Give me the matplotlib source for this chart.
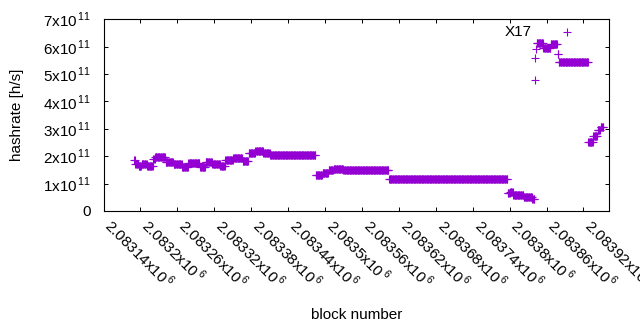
import numpy as np
import matplotlib
matplotlib.use("Agg")
import matplotlib.pyplot as plt
from matplotlib.ticker import FixedLocator, FuncFormatter

plt.rcParams['font.family'] = ['Liberation Sans', 'DejaVu Sans']
plt.rcParams['mathtext.fontset'] = 'custom'
plt.rcParams['mathtext.rm'] = 'Liberation Sans'

# ---- data: runs of blocks with (nearly) constant hashrate ----
first_block = 2083190
run_lengths = [2, 5, 5, 9, 10, 3, 17, 13, 14, 10, 19, 9, 11, 13, 8, 13, 15, 10,
               11, 13, 11, 74, 11, 10, 8, 16, 11, 63, 193, 4, 5, 17, 14, 4,
               1, 1, 1, 11, 12, 11, 2, 48, 8, 7, 5, 5]
run_values = [1.86e11, 1.70e11, 1.64e11, 1.73e11, 1.65e11, 1.90e11, 1.98e11, 1.80e11,
              1.70e11, 1.62e11, 1.75e11, 1.62e11, 1.80e11, 1.72e11, 1.64e11, 1.86e11,
              1.94e11, 1.82e11, 2.12e11, 2.18e11, 2.13e11, 2.03e11, 1.31e11, 1.40e11,
              1.50e11, 1.55e11, 1.49e11, 1.48e11, 1.17e11, 0.65e11, 0.69e11, 0.60e11,
              0.52e11, 0.45e11, 4.80e11, 5.57e11, 5.93e11, 6.12e11, 5.97e11, 6.08e11,
              5.74e11, 5.45e11, 2.52e11, 2.75e11, 2.95e11, 3.08e11]
outlier_blocks = [2083894]
outlier_values = [6.52e11]

x_ticks = [2083140 + 60 * i for i in range(14)]
y_ticks = [0, 1e11, 2e11, 3e11, 4e11, 5e11, 6e11, 7e11]
annotation_text = "X17"
annotation_block = 2083792
annotation_value = 6.53e11

blocks = first_block + np.arange(sum(run_lengths))
hashrate = np.repeat(run_values, run_lengths)
blocks = np.concatenate([blocks, outlier_blocks])
hashrate = np.concatenate([hashrate, outlier_values])

color = '#9400D3'

fig = plt.figure(figsize=(6.4, 3.3), dpi=100)
ax = fig.add_axes([103.5 / 640, 1 - 211 / 330, (609.3 - 103.5) / 640, (211 - 19.3) / 330])

ax.plot(blocks, hashrate, linestyle='none', marker='+', markersize=5.2,
        markeredgewidth=0.8, color=color)

ax.set_xlim(2083140, 2083962)
ax.set_ylim(0, 7e11)

ax.xaxis.set_major_locator(FixedLocator(x_ticks))
ax.yaxis.set_major_locator(FixedLocator(y_ticks))


def yfmt(v, pos):
    if v == 0:
        return '0'
    m = int(round(v / 1e11))
    return r'$\mathregular{%dx10}^{\,\mathregular{11}}$' % m


def xfmt(v, pos):
    return r'$\mathregular{%gx10}^{\,\mathregular{6}}$' % (v / 1e6)


ax.yaxis.set_major_formatter(FuncFormatter(yfmt))
ax.xaxis.set_major_formatter(FuncFormatter(xfmt))

ax.tick_params(axis='both', which='major', direction='in', length=3, width=0.7,
               top=True, right=True, labelsize=11, colors='black')
ax.tick_params(axis='y', pad=9)
ax.tick_params(axis='x', pad=11.5)
for lab in ax.get_xticklabels():
    lab.set_rotation(-45)
    lab.set_ha('left')
    lab.set_va('baseline')
    lab.set_rotation_mode('anchor')

for sp in ax.spines.values():
    sp.set_linewidth(0.8)
    sp.set_color('black')

ax.set_xlabel('block number', fontsize=11)
ax.xaxis.set_label_coords(0.5, (211 - 315) / (211 - 19.3))
ax.xaxis.label.set_va('center')
ax.set_ylabel('hashrate [h/s]', fontsize=11)
ax.yaxis.set_label_coords((16.7 - 103.5) / (609.3 - 103.5), 0.5)
ax.yaxis.label.set_va('center')

ax.text(annotation_block, annotation_value, annotation_text, fontsize=11,
        ha='left', va='center', color='black')

fig.savefig('out.png', dpi=100)
